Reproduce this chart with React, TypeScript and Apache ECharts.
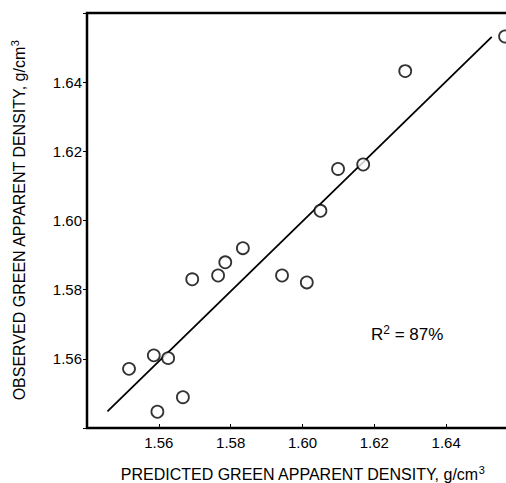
import React, { useEffect, useRef } from "react";
import * as echarts from "echarts";

const predicted = [1.5517, 1.5586, 1.5626, 1.5596, 1.5667, 1.5693, 1.5765, 1.5785, 1.5834, 1.5943, 1.6012, 1.605, 1.6099, 1.6169, 1.6286, 1.6564];
const observed = [1.5571, 1.561, 1.5602, 1.5447, 1.5489, 1.583, 1.5841, 1.5879, 1.592, 1.5841, 1.5821, 1.6028, 1.6149, 1.6162, 1.6432, 1.6532];
const fitX = [1.5457, 1.6527];
const fitY = [1.5448, 1.6531];
const tickLabels = ["1.56", "1.58", "1.60", "1.62", "1.64"];
const rSquaredText = "87%";

const FONT = "Liberation Sans";

export default function App() {
  const ref = useRef<HTMLDivElement>(null);
  useEffect(() => {
    if (!ref.current) return;
    const chart = echarts.init(ref.current, undefined, { renderer: "svg" });
    const fmt = (v: number) => {
      const s = v.toFixed(2);
      return tickLabels.includes(s) ? s : "";
    };
    const axisCommon = {
      type: "value" as const,
      min: 1.54,
      max: 1.66,
      interval: 0.02,
      splitLine: { show: false },
      axisLine: { show: false },
    };
    const nameStyle = {
      color: "#000",
      fontFamily: FONT,
      fontSize: 16,
      rich: { sup: { fontSize: 11, padding: [0, 0, 9, 0], color: "#000", fontFamily: FONT } },
    };
    chart.setOption({
      animation: false,
      backgroundColor: "#fff",
      grid: {
        left: 87,
        top: 13,
        right: 12,
        bottom: 55,
        outerBoundsMode: "none",
        show: true,
        borderColor: "#000",
        borderWidth: 2.5,
        backgroundColor: "transparent",
      },
      xAxis: {
        ...axisCommon,
        axisTick: { show: true, inside: true, length: 4, lineStyle: { color: "#000", width: 1 } },
        axisLabel: { formatter: fmt, color: "#000", fontFamily: FONT, fontSize: 15, margin: 7 },
        name: "PREDICTED GREEN APPARENT DENSITY, g/cm{sup|3}",
        nameLocation: "middle",
        nameGap: 36,
        nameTextStyle: nameStyle,
      },
      yAxis: {
        ...axisCommon,
        axisTick: { show: true, inside: false, length: 4, lineStyle: { color: "#000", width: 1 } },
        axisLabel: { formatter: fmt, color: "#000", fontFamily: FONT, fontSize: 15, margin: 5 },
        name: "OBSERVED GREEN APPARENT DENSITY, g/cm{sup|3}",
        nameLocation: "middle",
        nameGap: 58,
        nameTextStyle: nameStyle,
      },
      graphic: [
        {
          type: "text",
          left: 371,
          top: 324,
          style: {
            text: "{r|R}{s|2}{r| = " + rSquaredText + "}",
            rich: {
              r: { fontSize: 17, fontFamily: FONT, fill: "#000" },
              s: { fontSize: 12, fontFamily: FONT, fill: "#000", padding: [0, 0, 9, 0] },
            },
          },
        },
      ],
      series: [
        {
          type: "line",
          data: fitX.map((x, i) => [x, fitY[i]]),
          symbol: "none",
          lineStyle: { color: "#000", width: 1.8 },
          silent: true,
          z: 2,
        },
        {
          type: "scatter",
          data: predicted.map((x, i) => [x, observed[i]]),
          symbol: "circle",
          symbolSize: 12,
          itemStyle: { color: "#fff", borderColor: "#000", borderWidth: 1.8 },
          clip: false,
          z: 3,
        },
      ],
    });
    return () => chart.dispose();
  }, []);
  return (
    <div style={{ position: "absolute", left: 0, top: 0, width: 506, height: 483, overflow: "hidden" }}>
      <div ref={ref} style={{ width: 530, height: 483 }} />
    </div>
  );
}
